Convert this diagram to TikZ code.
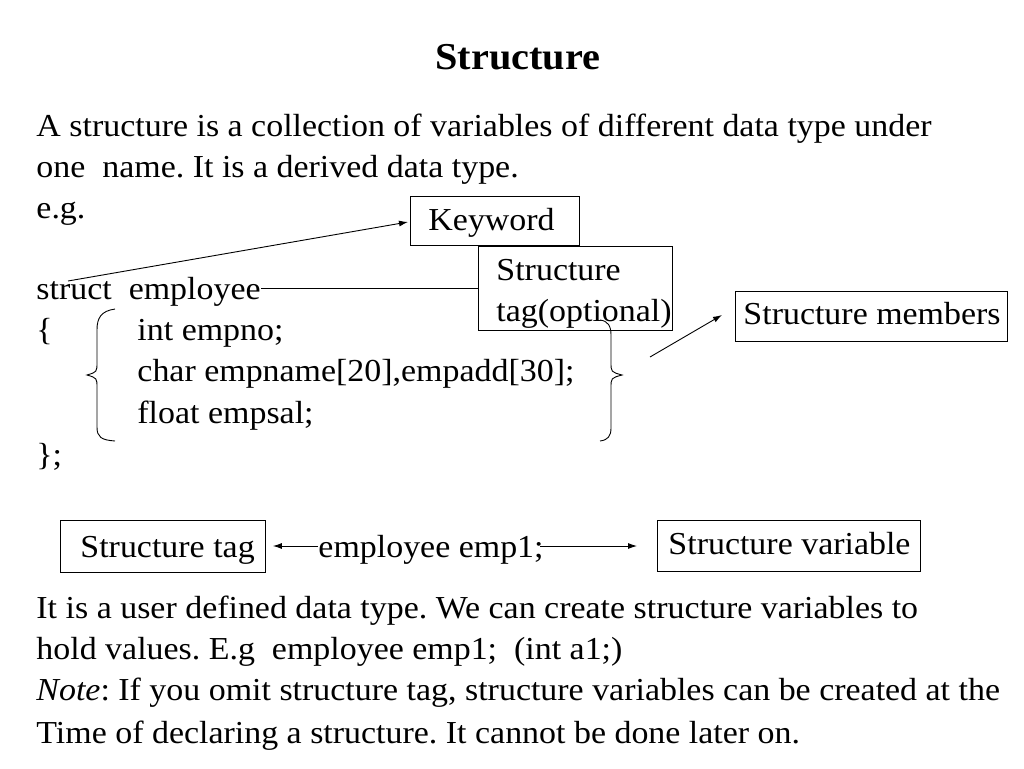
\documentclass[tikz,border=0pt]{standalone}
\usepackage{fontspec}
\setmainfont[FakeStretch=1.06]{Liberation Serif}
\usetikzlibrary{arrows.meta}
\tikzset{
        txt/.style={anchor=base west, inner sep=0pt, font=\fontsize{32}{40}\selectfont},
        boxed/.style={draw, rectangle, anchor=north west, inner sep=0pt}
    }

\begin{document}
\frenchspacing
\begin{tikzpicture}[x=1pt,y=-1pt,line width=0.9pt,>={Latex[length=9pt,width=6pt]}]
\useasboundingbox (0,0) rectangle (1024,768);

\draw (518,57) node(TITLE)[font=\fontsize{38}{44}\selectfont\bfseries]{Structure};

\draw (36,136) node(DEFA)[txt]{A structure is a collection of variables of different data type under};
\draw (36,177) node(DEFB)[txt]{one\ \ name. It is a derived data type.};
\draw (36,218) node(EG)[txt]{e.g.};

\draw (36,299) node(STRUCT)[txt]{struct\ \ employee};
\draw (36,340) node(OPEN)[txt]{\{};
\draw (137,340) node(MEMA)[txt]{int empno;};
\draw (137,381) node(MEMB)[txt]{char empname[20],empadd[30];};
\draw (137,423) node(MEMC)[txt]{float empsal;};
\draw (36,465) node(CLOSE)[txt]{\};};

\draw (410,196) node(KEYBOX)[boxed,minimum width=169pt,minimum height=49pt]{};
\draw (428,230) node(KEY)[txt]{Keyword};
\draw (478,246) node(TAGBOX)[boxed,minimum width=194pt,minimum height=84pt]{};
\draw (496,280) node(TAGA)[txt]{Structure};
\draw (496,321) node(TAGB)[txt]{tag(optional)};
\draw (735,291) node(MEMBOX)[boxed,minimum width=272pt,minimum height=50pt]{};
\draw (743,324) node(MEM)[txt]{Structure members};

% braces
\draw (115,309) .. controls (101,311) and (97,318) .. (97,330) -- (97,362) .. controls (97,372) .. (87,375)
      .. controls (97,378) .. (97,388) -- (97,427) .. controls (97,437) and (101,440) .. (115,441);
\draw (600,320) .. controls (608,321) and (611,326) .. (611,335) -- (611,362) .. controls (611,372) .. (622,375)
      .. controls (611,378) .. (611,388) -- (611,428) .. controls (611,436) and (608,440) .. (600,441);

\coordinate (STRIN) at (68,281);
\coordinate (KEYIN) at (408,222);
\draw[->] (STRIN) -- (KEYIN);
\draw (STRUCT.east |- TAGBOX.west) -- (TAGBOX.west);
\coordinate (MEMFROM) at (650,357);
\coordinate (MEMIN) at (722,315);
\draw[->] (MEMFROM) -- (MEMIN);

% declaration
\draw (60,520) node(TAGNODE)[boxed,minimum width=205pt,minimum height=52pt]{};
\draw (80,557) node(TAGTXT)[txt]{Structure tag};
\draw (318,557) node(DECL)[txt]{employee emp1;};
\draw (657,520) node(VARNODE)[boxed,minimum width=263pt,minimum height=51pt]{};
\draw (668,554) node(VARTXT)[txt]{Structure variable};
\coordinate (DECLL) at (318,546);
\coordinate (DECLR) at (540,546);
\draw[->] (DECLL) -- ([xshift=7pt]TAGNODE.east |- DECLL);
\draw[->] (DECLR) -- ([xshift=-20pt]VARNODE.west |- DECLR);

\draw (36,618) node(USEA)[txt]{It is a user defined data type. We can create structure variables to};
\draw (36,659) node(USEB)[txt]{hold values. E.g\ \ employee emp1;\ \ (int a1;)};
\draw (36,700) node(NOTEA)[txt]{\textit{Note}: If you omit structure tag, structure variables can be created at the};
\draw (36,743) node(NOTEB)[txt]{Time of declaring a structure. It cannot be done later on.};

\end{tikzpicture}
\end{document}
